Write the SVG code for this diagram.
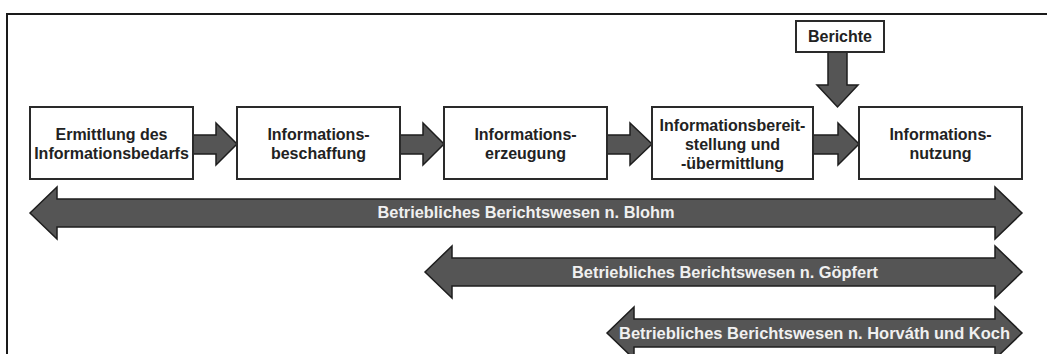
<svg xmlns="http://www.w3.org/2000/svg" width="1047" height="354" viewBox="0 0 1047 354">
  <style>
    .box { fill: #ffffff; stroke: #2a2a2a; stroke-width: 2; }
    .flow { fill: #555555; stroke: #1e1e1e; stroke-width: 1.5; stroke-linejoin: miter; }
    .span { fill: #555555; stroke: #1e1e1e; stroke-width: 1.5; }
    .lbl { font-family: "Liberation Sans", Arial, sans-serif; font-weight: bold; font-size: 16px; fill: #222222; text-anchor: middle; }
    .slbl { font-family: "Liberation Sans", Arial, sans-serif; font-weight: bold; font-size: 16px; fill: #f0f0f0; text-anchor: middle; }
  </style>
  <rect width="1047" height="354" fill="#ffffff"/>
  <!-- frame (open to the right and bottom) -->
  <path d="M7,354 V14 H1047" fill="none" stroke="#1a1a1a" stroke-width="2"/>

  <g id="connectors">
    <polygon class="flow" points="193,135 216,135 216,123 237,144 216,165 216,154 193,154"/>
    <polygon class="flow" points="400,135 423,135 423,123 444,144 423,165 423,154 400,154"/>
    <polygon class="flow" points="607,135 630,135 630,123 652,144 630,165 630,154 607,154"/>
    <polygon class="flow" points="813,135 838,135 838,123 859,144 838,165 838,154 813,154"/>
    <polygon class="flow" points="828,52 847,52 847,85 858,85 837.5,107 817,85 828,85"/>
  </g>

  <g id="n1">
    <rect class="box" x="30" y="107" width="163" height="72"/>
    <text class="lbl" x="111.5" y="140">Ermittlung des</text>
    <text class="lbl" x="111.5" y="159">Informationsbedarfs</text>
  </g>
  <g id="n2">
    <rect class="box" x="237" y="107" width="163" height="72"/>
    <text class="lbl" x="318.5" y="140">Informations-</text>
    <text class="lbl" x="318.5" y="159">beschaffung</text>
  </g>
  <g id="n3">
    <rect class="box" x="444" y="107" width="163" height="72"/>
    <text class="lbl" x="525.5" y="140">Informations-</text>
    <text class="lbl" x="525.5" y="159">erzeugung</text>
  </g>
  <g id="n4">
    <rect class="box" x="652" y="107" width="161" height="72"/>
    <text class="lbl" x="732.5" y="131">Informationsbereit-</text>
    <text class="lbl" x="732.5" y="150">stellung und</text>
    <text class="lbl" x="732.5" y="169">-übermittlung</text>
  </g>
  <g id="n5">
    <rect class="box" x="859" y="107" width="163" height="72"/>
    <text class="lbl" x="940.5" y="140">Informations-</text>
    <text class="lbl" x="940.5" y="159">nutzung</text>
  </g>
  <g id="berichte">
    <rect class="box" x="796" y="21" width="88" height="31"/>
    <text class="lbl" x="840" y="42">Berichte</text>
  </g>

  <g id="span-blohm">
    <polygon class="span" points="30,213 57,187 57,199 995,199 995,187 1022,213 995,239 995,227 57,227 57,239"/>
    <text class="slbl" x="526" y="218" textLength="297" lengthAdjust="spacingAndGlyphs">Betriebliches Berichtswesen n. Blohm</text>
  </g>
  <g id="span-goepfert">
    <polygon class="span" points="425,272 452,246 452,258 995,258 995,246 1022,272 995,298 995,286 452,286 452,298"/>
    <text class="slbl" x="725" y="278" textLength="306" lengthAdjust="spacingAndGlyphs">Betriebliches Berichtswesen n. Göpfert</text>
  </g>
  <g id="span-horvath">
    <polygon class="span" points="607,333 634,307 634,319 995,319 995,307 1022,333 995,359 995,347 634,347 634,359"/>
    <text class="slbl" x="814.5" y="339" textLength="391" lengthAdjust="spacingAndGlyphs">Betriebliches Berichtswesen n. Horváth und Koch</text>
  </g>
</svg>
